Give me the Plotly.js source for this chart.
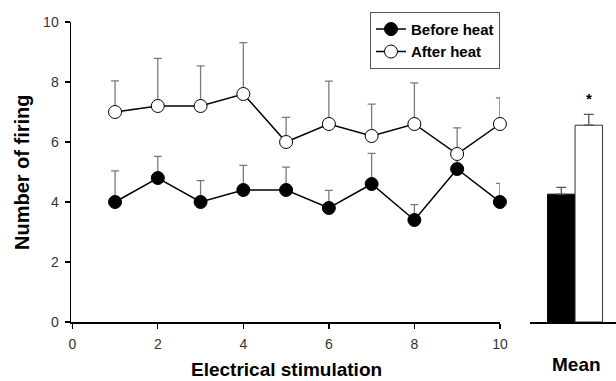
<!DOCTYPE html>
<html>
<head>
<meta charset="utf-8">
<script src="https://cdn.plot.ly/plotly-3.0.1.min.js"></script>
<style>html,body{margin:0;padding:0;background:#fff;}#chart{width:616px;height:381px;}</style>
</head>
<body>
<div id="chart"></div>
<script>
const stimulation = [1, 2, 3, 4, 5, 6, 7, 8, 9, 10];
const beforeHeat = [4.0, 4.8, 4.0, 4.4, 4.4, 3.8, 4.6, 3.4, 5.1, 4.0];
const beforeErr  = [1.04, 0.72, 0.71, 0.82, 0.76, 0.59, 1.02, 0.51, 0.4, 0.62];
const afterHeat  = [7.0, 7.2, 7.2, 7.6, 6.0, 6.6, 6.2, 6.6, 5.6, 6.6];
const afterErr   = [1.04, 1.59, 1.34, 1.71, 0.82, 1.43, 1.06, 1.37, 0.87, 0.87];
const meanGroups = ['Before heat', 'After heat'];
const meanValues = [4.26, 6.56];
const meanErr    = [0.23, 0.36];
const xTicks = [0, 2, 4, 6, 8, 10];
const yTicks = [0, 2, 4, 6, 8, 10];

const font = 'Liberation Sans, Arial, sans-serif';

const traces = [
  {
    x: stimulation, y: beforeHeat, name: 'Before heat', type: 'scatter', mode: 'lines+markers',
    cliponaxis: false,
    line: {color: '#000', width: 1.5},
    marker: {color: '#000', size: 13, line: {color: '#000', width: 1}},
    error_y: {type: 'data', symmetric: false, array: beforeErr, arrayminus: beforeErr.map(() => 0),
              color: '#7a7a7a', thickness: 1.3, width: 4},
    xaxis: 'x', yaxis: 'y'
  },
  {
    x: stimulation, y: afterHeat, name: 'After heat', type: 'scatter', mode: 'lines+markers',
    cliponaxis: false,
    line: {color: '#000', width: 1.5},
    marker: {color: '#fff', size: 13, line: {color: '#000', width: 1}},
    error_y: {type: 'data', symmetric: false, array: afterErr, arrayminus: afterErr.map(() => 0),
              color: '#7a7a7a', thickness: 1.3, width: 4},
    xaxis: 'x', yaxis: 'y'
  },
  {
    x: [0, 1], y: meanValues, type: 'bar', showlegend: false, width: 1,
    text: meanGroups, hoverinfo: 'y+text', textposition: 'none',
    marker: {color: ['#000', '#fff'], line: {color: ['#000', '#333'], width: 1}},
    error_y: {type: 'data', symmetric: false, array: meanErr, arrayminus: [0, 0],
              color: '#555', thickness: 1.3, width: 5},
    xaxis: 'x2', yaxis: 'y'
  }
];

const tickFont = {family: font, size: 14, color: '#333'};

const layout = {
  width: 616, height: 381,
  margin: {l: 71, r: 0, t: 22, b: 59},
  paper_bgcolor: '#fff', plot_bgcolor: 'rgba(0,0,0,0)',
  font: {family: font, size: 14, color: '#333'},
  showlegend: true,
  legend: {
    x: 0.5486, y: 1.034, xanchor: 'left', yanchor: 'top',
    bgcolor: '#fff', bordercolor: '#555', borderwidth: 1,
    font: {family: font, size: 15, color: '#000', weight: 'bold'},
    tracegroupgap: 0
  },
  xaxis: {
    domain: [0, 0.787], range: [-0.03, 10], tickvals: xTicks, ticktext: xTicks.map(String),
    tickfont: tickFont,
    showline: true, linecolor: '#000', linewidth: 1.5, ticks: 'outside', ticklen: 5, tickcolor: '#000',
    tickwidth: 1.3, showgrid: false, zeroline: false, anchor: 'y', ticklabelstandoff: 4
  },
  xaxis2: {
    domain: [0.842, 1], range: [-1.144, 1.99], showline: true, linecolor: '#000', linewidth: 1.5,
    showticklabels: false, ticks: '', showgrid: false, zeroline: false, anchor: 'y'
  },
  yaxis: {
    range: [0, 10], tickvals: yTicks, ticktext: yTicks.map(String),
    tickfont: tickFont,
    showline: true, linecolor: '#000', linewidth: 1.5, ticks: 'outside', ticklen: 5, tickcolor: '#000',
    tickwidth: 1.3, showgrid: false, zeroline: false, anchor: 'x', ticklabelstandoff: 3
  },
  bargap: 0,
  annotations: [
    {text: 'Number of firing', xref: 'paper', yref: 'paper', x: -0.0899, y: 0.5, textangle: -90,
     showarrow: false, xanchor: 'center', yanchor: 'middle',
     font: {family: font, size: 20, color: '#000', weight: 'bold'}},
    {text: 'Electrical stimulation', xref: 'x', yref: 'paper', x: 5, y: -0.157,
     showarrow: false, xanchor: 'center', yanchor: 'middle',
     font: {family: font, size: 19, color: '#000', weight: 'bold'}},
    {text: 'Mean', xref: 'paper', yref: 'paper', x: 0.9284, y: -0.143,
     showarrow: false, xanchor: 'center', yanchor: 'middle',
     font: {family: font, size: 19, color: '#000', weight: 'bold'}},
    {text: '*', xref: 'x2', yref: 'y', x: 1, y: 7.45,
     showarrow: false, xanchor: 'center', yanchor: 'middle',
     font: {family: font, size: 15, color: '#000', weight: 'bold'}}
  ]
};

Plotly.newPlot('chart', traces, layout, {displayModeBar: false, staticPlot: true});
</script>
</body>
</html>
